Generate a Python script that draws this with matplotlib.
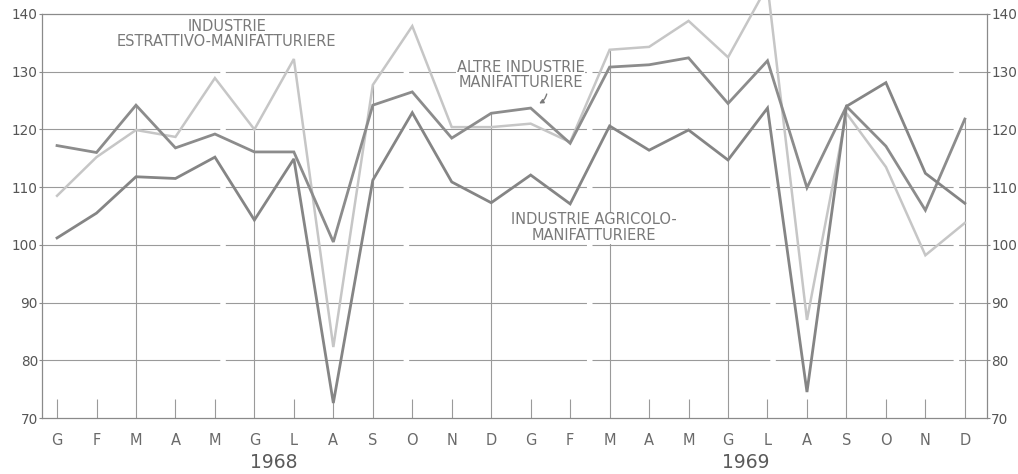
import numpy as np
import matplotlib
matplotlib.use("Agg")
from matplotlib import pyplot as plt
from matplotlib.transforms import blended_transform_factory

# mesi 1968-1969
months = ["G", "F", "M", "A", "M", "G", "L", "A", "S", "O", "N", "D",
          "G", "F", "M", "A", "M", "G", "L", "A", "S", "O", "N", "D"]
years = ["1968", "1969"]

estrattivo = [108.5, 115.2, 119.9, 118.7, 128.9, 120.0, 132.2, 82.3, 127.7, 137.9, 120.4, 120.4,
              121.0, 117.8, 133.8, 134.3, 138.8, 132.5, 144.9, 87.0, 122.8, 113.5, 98.2, 103.8]
altre = [117.2, 116.0, 124.2, 116.8, 119.2, 116.1, 116.1, 100.5, 124.2, 126.5, 118.5, 122.8,
         123.7, 117.6, 130.8, 131.2, 132.4, 124.5, 131.9, 109.9, 124.0, 117.1, 106.0, 121.8]
agricolo = [101.2, 105.5, 111.8, 111.5, 115.2, 104.3, 114.9, 72.6, 111.2, 122.9, 110.9, 107.3,
            112.1, 107.1, 120.6, 116.4, 119.9, 114.7, 123.7, 74.5, 124.0, 128.1, 112.4, 107.2]

yticks = [70, 80, 90, 100, 110, 120, 130, 140]

grid_col = "#9a9a9a"
text_col = "#7a7a7a"

fig = plt.figure(figsize=(10.18, 4.74), dpi=100)
ax = fig.add_axes([0.0413, 0.1181, 0.9282, 0.8524])
x = np.arange(len(months))

ax.set_xlim(-0.38, 23.56)
ax.set_ylim(70, 140)

# griglia orizzontale
for v in yticks[1:-1]:
    ax.axhline(v, color=grid_col, lw=0.8, dashes=(160, 5), zorder=1)

# linee verticali ai trimestri, tacche corte agli altri mesi
top = np.max([estrattivo, altre, agricolo], axis=0)
for i in x:
    if i % 3 == 2:
        ax.vlines(i, 70, top[i], color=grid_col, lw=0.8, zorder=1)
    else:
        ax.vlines(i, 70, 73.3, color=grid_col, lw=0.8, zorder=1)

ax.plot(x, estrattivo, color="#c6c6c6", lw=1.8, zorder=3, clip_on=False,
        solid_joinstyle="miter")
ax.plot(x, altre, color="#8c8c8c", lw=2.0, zorder=4, solid_joinstyle="miter")
ax.plot(x, agricolo, color="#858585", lw=2.0, zorder=4, solid_joinstyle="miter")

# etichette delle serie
ax.text(4.3, 136.6, "INDUSTRIE\nESTRATTIVO-MANIFATTURIERE", ha="center", va="center",
        fontsize=10.5, color=text_col, linespacing=1.0)
ax.text(11.75, 129.4, "ALTRE INDUSTRIE\nMANIFATTURIERE", ha="center", va="center",
        fontsize=10.5, color=text_col, linespacing=1.0,
        bbox=dict(facecolor="white", edgecolor="none", pad=0.5))
ax.annotate("", xy=(12.15, 124.3), xytext=(12.42, 126.6),
            arrowprops=dict(arrowstyle="-|>", color=text_col, lw=1.0,
                            connectionstyle="arc3,rad=-0.3", mutation_scale=6))
ax.text(13.6, 103.0, "INDUSTRIE AGRICOLO-\nMANIFATTURIERE", ha="center", va="center",
        fontsize=10.5, color=text_col, linespacing=1.05,
        bbox=dict(facecolor="white", edgecolor="none", pad=0.5))

# assi
for s in ["left", "right", "bottom", "top"]:
    ax.spines[s].set_color("#8a8a8a")
    ax.spines[s].set_linewidth(0.9)

ax.set_yticks(yticks)
ax.set_yticklabels([str(v) for v in yticks])
ax.tick_params(axis="y", which="both", left=True, right=True, labelleft=True,
               labelright=True, length=2.5, width=0.8, color="#8a8a8a",
               labelsize=9.8, labelcolor="#555555", pad=0.5)

ax.set_xticks(x)
ax.set_xticklabels(months)
ax.tick_params(axis="x", length=0, pad=11, labelsize=10.5, labelcolor="#6a6a6a")

trans = blended_transform_factory(ax.transData, fig.transFigure)
ax.text(5.5, 1 - 463 / 474, years[0], transform=trans, ha="center", va="center",
        fontsize=13.5, color="#5a5a5a")
ax.text(17.45, 1 - 463 / 474, years[1], transform=trans, ha="center", va="center",
        fontsize=13.5, color="#5a5a5a")

fig.savefig("out.png", dpi=100, facecolor="white")
